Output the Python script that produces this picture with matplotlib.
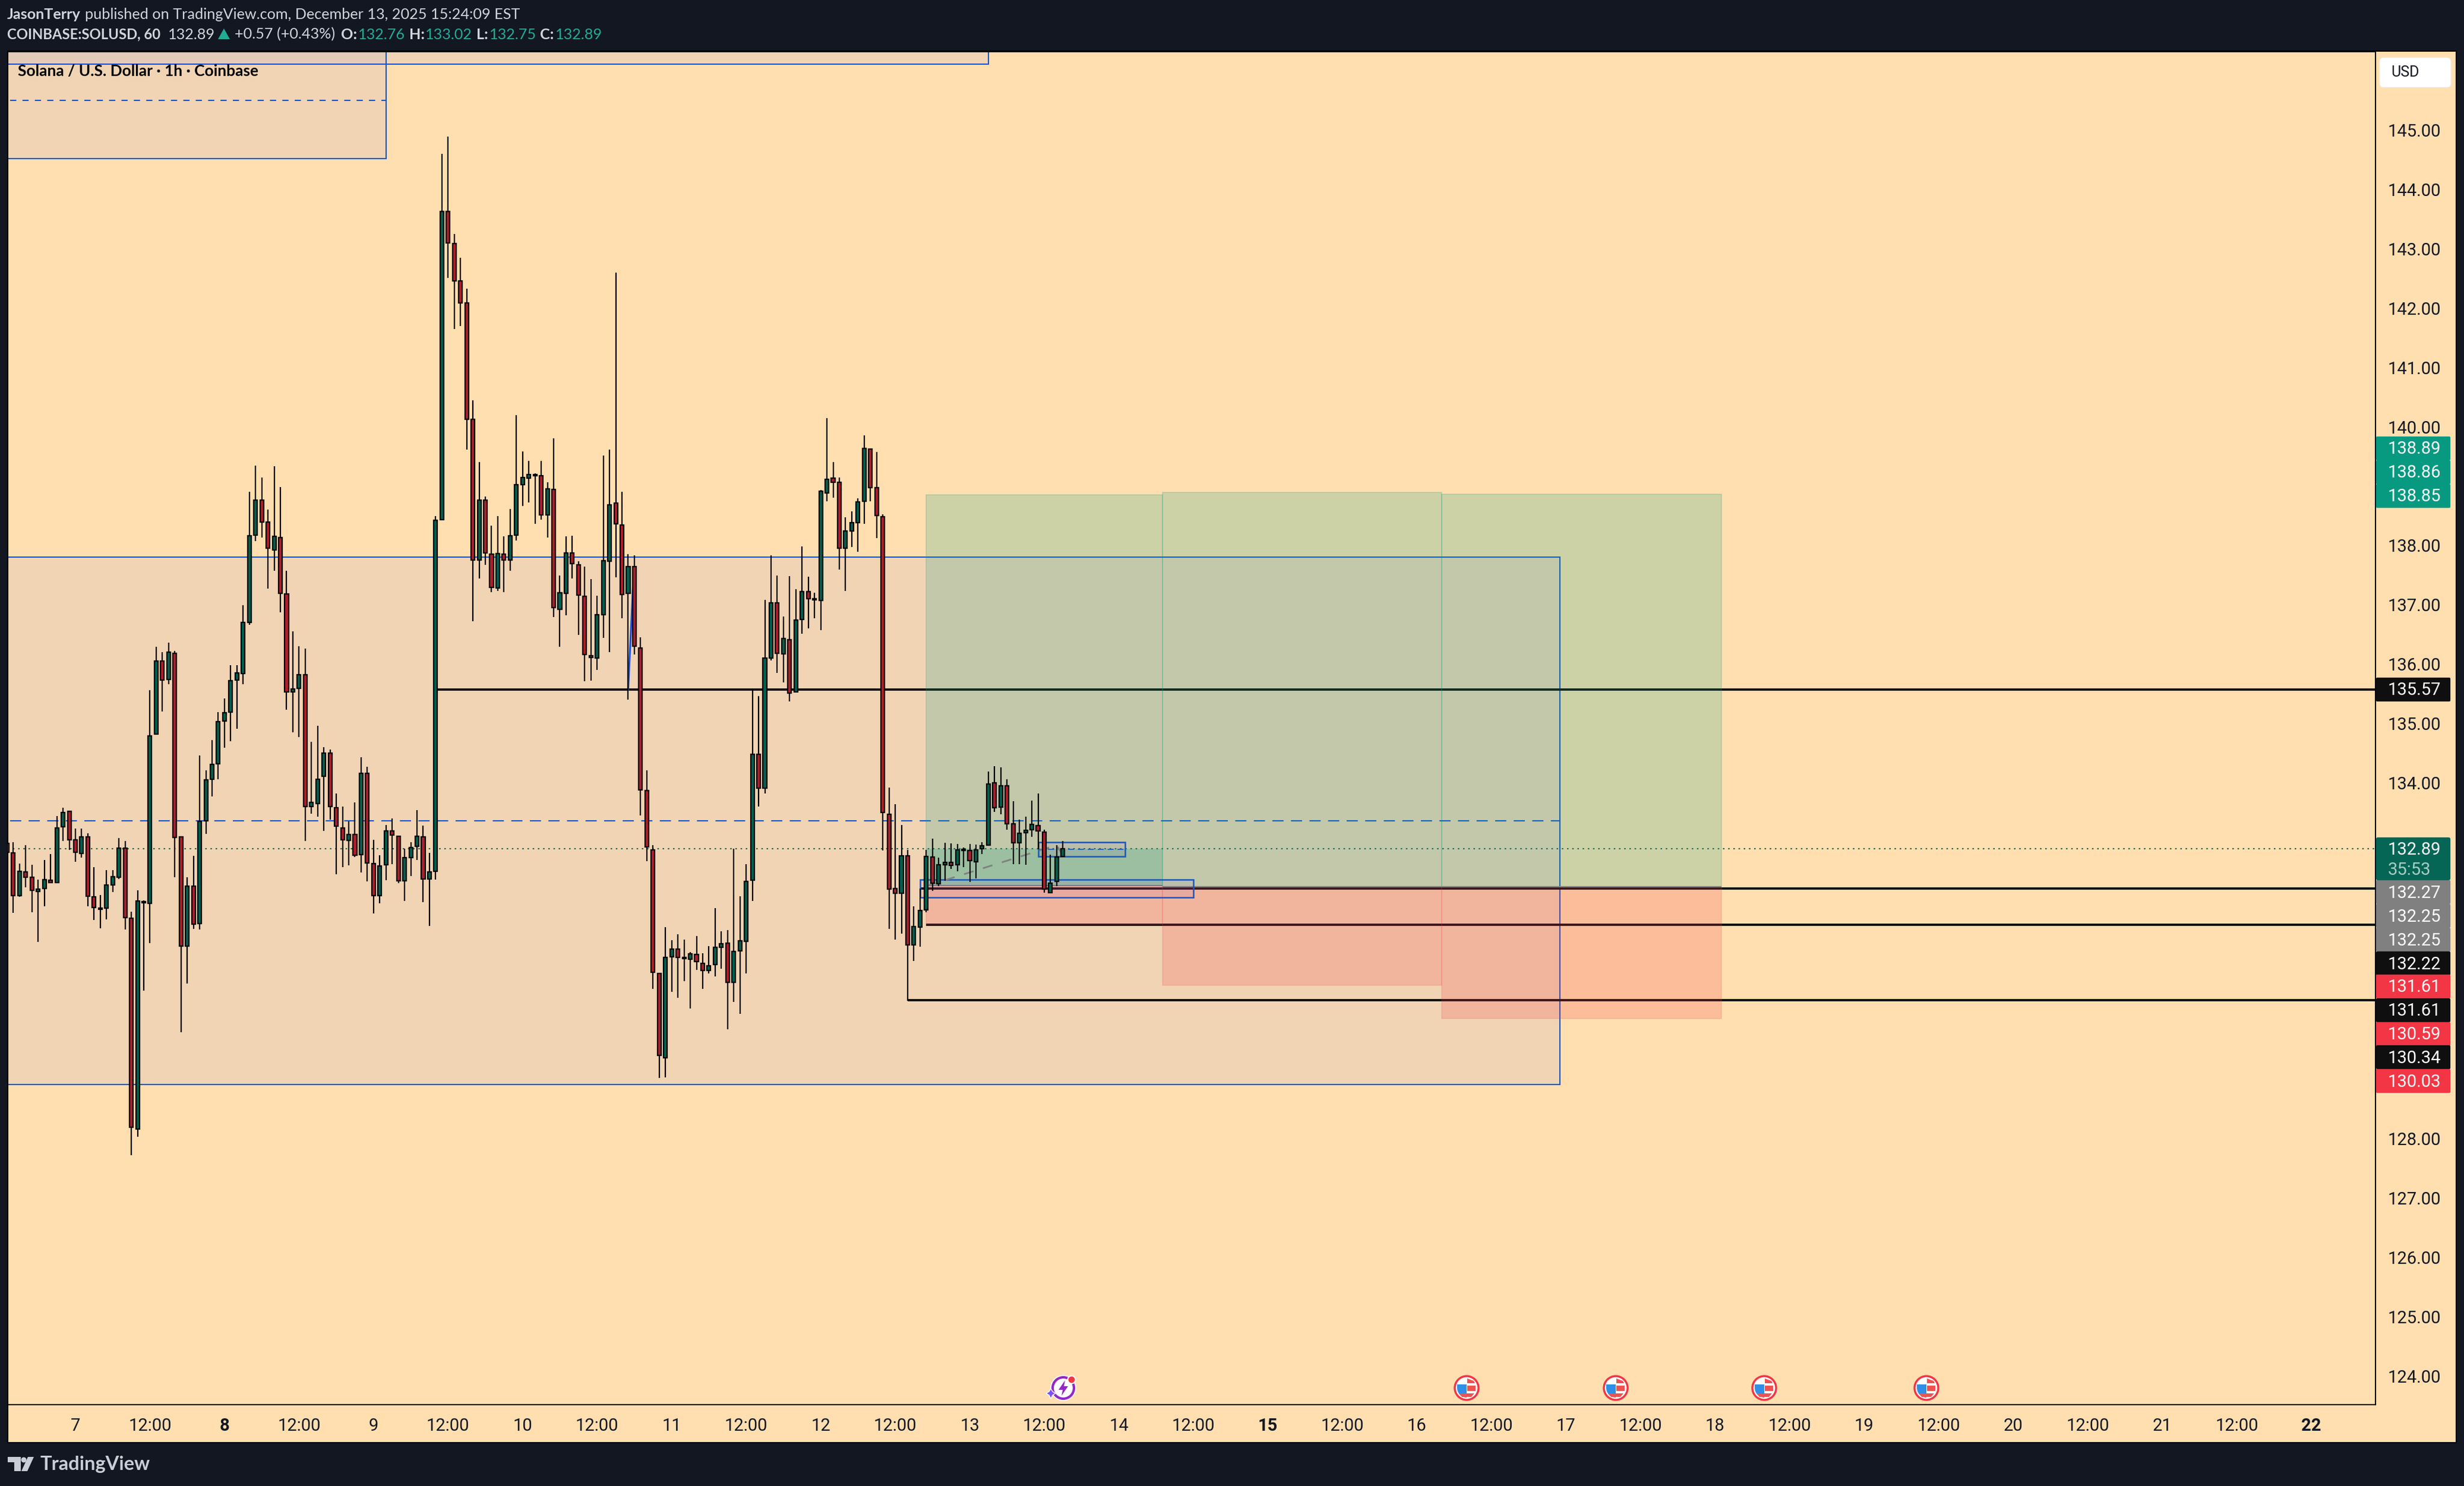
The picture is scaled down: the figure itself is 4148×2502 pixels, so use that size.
import numpy as np
import matplotlib
matplotlib.use('Agg')
import matplotlib.pyplot as plt
from matplotlib.patches import Rectangle, Circle, Polygon, FancyBboxPatch, Wedge

# hours since Dec 7 00:00, one candle per hour
hours = np.arange(-11, 160)

opens = [132.98, 132.82, 132.10, 132.50, 132.41, 132.17, 132.22, 132.36, 132.32, 133.26, 133.52,
         133.04, 132.81, 133.09, 132.08, 131.89, 131.89, 132.28, 132.41, 132.90, 131.72, 128.16,
         131.98, 131.97, 134.82, 136.05, 135.74, 136.18, 133.09, 131.25, 132.26, 131.63, 133.36,
         134.06, 134.32, 135.04, 135.19, 135.73, 135.84, 136.70, 138.17, 138.76, 138.39, 137.92,
         138.13, 137.18, 135.53, 135.59, 135.82, 133.60, 133.65, 134.11, 134.50, 133.58, 133.24,
         133.03, 133.13, 132.79, 134.16, 132.64, 132.10, 132.62, 133.19, 133.10, 132.35, 132.74,
         132.93, 133.09, 132.38, 132.51, 138.43, 143.63, 143.09, 142.46, 142.09, 140.13, 137.75,
         138.76, 137.85, 137.28, 137.85, 137.75, 138.17, 139.03, 139.14, 139.18, 139.18, 138.51,
         138.94, 136.92, 137.19, 137.87, 137.67, 137.14, 136.14, 136.10, 136.83, 137.73, 138.71,
         138.34, 137.19, 137.64, 136.27, 133.87, 132.87, 130.79, 129.37, 131.07, 131.20, 131.06,
         131.03, 131.11, 130.96, 130.84, 130.94, 131.23, 131.30, 130.64, 131.17, 131.33, 132.36,
         134.48, 133.91, 136.10, 137.03, 136.17, 136.41, 135.53, 136.75, 137.22, 137.10, 137.07,
         138.88, 139.14, 139.07, 137.95, 138.24, 138.38, 138.74, 139.63, 138.97, 138.48, 133.47,
         132.22, 132.14, 132.77, 131.27, 131.57, 131.86, 132.75, 132.30, 132.62, 132.66, 132.62,
         132.86, 132.86, 132.67, 132.89, 132.95, 134.00, 133.59, 133.95, 133.31, 132.99, 133.16,
         133.21, 133.28, 133.17, 132.15, 132.34, 132.76]
highs = [133.05, 133.00, 132.64, 132.95, 132.62, 132.37, 132.70, 132.80, 133.44, 133.58, 133.53,
         133.23, 133.23, 133.15, 132.58, 132.11, 132.53, 132.53, 133.07, 133.02, 131.83, 132.19,
         132.02, 135.56, 136.29, 136.20, 136.36, 136.22, 133.09, 132.41, 132.77, 134.46, 134.21,
         134.72, 135.19, 135.42, 135.98, 135.98, 136.99, 138.90, 139.35, 139.15, 138.60, 139.34,
         138.98, 137.57, 136.55, 136.30, 136.26, 134.69, 134.96, 134.60, 134.56, 133.82, 133.60,
         133.35, 133.67, 134.43, 134.27, 133.04, 132.78, 133.29, 133.40, 133.11, 132.89, 133.00,
         133.54, 133.28, 132.82, 138.49, 144.60, 144.89, 143.25, 142.85, 142.33, 140.45, 139.41,
         138.82, 138.33, 138.49, 138.15, 138.61, 140.20, 139.59, 139.43, 139.22, 139.43, 139.07,
         139.81, 137.49, 138.15, 138.16, 137.73, 137.64, 137.43, 137.15, 139.52, 139.62, 142.60,
         138.90, 137.85, 137.83, 136.45, 134.21, 132.95, 130.80, 131.57, 131.35, 131.45, 131.36,
         131.15, 131.42, 131.13, 131.25, 131.89, 131.50, 131.52, 132.89, 132.09, 132.63, 135.59,
         135.46, 137.08, 137.83, 137.49, 136.80, 137.48, 137.26, 137.98, 137.47, 137.20, 138.93,
         140.15, 139.41, 139.15, 138.47, 138.57, 138.79, 139.86, 139.64, 139.58, 138.52, 133.92,
         133.64, 133.29, 132.87, 131.92, 132.22, 132.87, 133.06, 132.74, 132.99, 132.98, 132.97,
         132.91, 132.97, 132.96, 133.00, 134.19, 134.28, 134.26, 134.06, 133.69, 133.38, 133.43,
         133.70, 133.82, 133.21, 132.79, 132.95, 133.02]
lows = [132.72, 131.81, 132.08, 132.24, 131.82, 131.32, 131.92, 132.32, 132.32, 133.02, 132.87,
        132.67, 132.74, 131.92, 131.69, 131.55, 131.70, 132.16, 132.38, 131.53, 127.72, 128.03,
        130.50, 131.30, 134.82, 135.20, 135.66, 132.41, 129.80, 130.62, 131.54, 131.53, 133.14,
        133.77, 134.06, 134.59, 134.70, 134.91, 135.66, 136.66, 138.07, 138.13, 137.27, 137.57,
        136.87, 135.23, 134.85, 134.77, 133.02, 133.48, 133.43, 133.19, 133.38, 132.46, 132.58,
        132.61, 132.75, 132.49, 132.34, 131.80, 131.97, 132.36, 132.63, 132.31, 132.01, 132.43,
        132.70, 131.99, 131.59, 132.37, 138.43, 142.51, 141.65, 141.70, 139.62, 136.72, 137.44,
        137.67, 137.21, 137.23, 137.21, 137.57, 138.08, 138.66, 138.72, 138.36, 138.43, 138.13,
        136.79, 136.29, 136.82, 137.44, 136.49, 135.71, 135.72, 135.90, 136.44, 136.20, 137.46,
        136.77, 135.40, 136.16, 133.45, 132.68, 130.53, 129.03, 129.04, 130.48, 130.38, 130.66,
        130.20, 130.85, 130.53, 130.79, 130.74, 130.87, 129.85, 130.31, 130.11, 130.79, 132.01,
        133.60, 133.82, 136.06, 135.85, 135.69, 135.37, 135.53, 136.51, 136.60, 136.77, 136.57,
        138.74, 138.80, 137.59, 137.23, 137.97, 137.89, 138.36, 138.74, 138.12, 132.86, 131.54,
        131.36, 131.46, 130.33, 131.00, 131.24, 131.82, 132.18, 132.26, 132.35, 132.55, 132.51,
        132.58, 132.33, 132.39, 132.80, 132.95, 133.51, 133.47, 133.21, 132.63, 132.63, 132.62,
        133.09, 132.88, 132.15, 132.14, 132.26, 132.75]
closes = [132.83, 132.10, 132.51, 132.41, 132.19, 132.21, 132.37, 132.32, 133.24, 133.50, 133.04,
          132.83, 133.09, 132.09, 131.90, 131.87, 132.28, 132.42, 132.90, 131.73, 128.19, 132.01,
          132.00, 134.79, 136.05, 135.73, 136.20, 133.08, 131.25, 132.26, 131.62, 133.35, 134.05,
          134.31, 135.03, 135.18, 135.72, 135.85, 136.70, 138.16, 138.76, 138.39, 137.95, 138.15,
          137.19, 135.53, 135.58, 135.82, 133.60, 133.67, 134.06, 134.50, 133.60, 133.27, 133.04,
          133.13, 132.78, 134.16, 132.65, 132.10, 132.60, 133.19, 133.12, 132.35, 132.74, 132.91,
          133.10, 132.38, 132.50, 138.42, 143.63, 143.10, 142.46, 142.09, 140.13, 137.75, 138.76,
          137.87, 137.29, 137.86, 137.75, 138.16, 139.03, 139.15, 139.20, 139.20, 138.51, 138.95,
          136.95, 137.20, 137.87, 137.69, 137.16, 136.16, 136.11, 136.83, 137.74, 138.68, 138.36,
          137.17, 137.64, 136.30, 133.88, 132.92, 130.81, 129.41, 131.06, 131.20, 131.06, 131.04,
          131.12, 130.99, 130.84, 130.92, 131.23, 131.29, 130.64, 131.16, 131.34, 132.34, 134.48,
          133.91, 136.10, 137.03, 136.18, 136.43, 135.51, 136.74, 137.22, 137.10, 137.08, 138.91,
          139.12, 139.07, 137.95, 138.24, 138.38, 138.73, 139.64, 138.97, 138.50, 133.50, 132.21,
          132.14, 132.77, 131.27, 131.58, 131.85, 132.76, 132.31, 132.62, 132.66, 132.61, 132.87,
          132.88, 132.69, 132.87, 132.94, 133.98, 133.58, 133.95, 133.31, 132.99, 133.15, 133.20,
          133.30, 133.19, 132.21, 132.31, 132.75, 132.89]

# 129-133 and 139 sit behind the price tags, so they are left out
price_ticks = [124, 125, 126, 127, 128, 134, 135, 136, 137, 138, 140, 141, 142, 143, 144, 145]
time_ticks = np.arange(0, 361, 12)
day_names = {0: '7', 24: '8', 48: '9', 72: '10', 96: '11', 120: '12', 144: '13', 168: '14',
             192: '15', 216: '16', 240: '17', 264: '18', 288: '19', 312: '20', 336: '21', 360: '22'}
bold_days = (24, 192, 360)

# zones: start hour, end hour, low price, high price
big_zone = (-20, 239, 128.91, 137.80)
top_zone = (-20, 147, 146.11, 147.5)
corner_zone = (-20, 50, 144.52, 147.5)
small_zones = [(136, 180, 132.07, 132.37), (155, 169, 132.76, 133.00)]

# long positions: start, end, stop, entry, target
positions = [(137, 175, 131.61, 132.27, 138.85),
             (175, 220, 130.59, 132.25, 138.89),
             (220, 265, 130.03, 132.25, 138.86)]

# black level lines: start hour, price
levels = [(58, 135.57), (136, 132.22), (137, 131.61), (134, 130.34)]

last_price = 132.89
mid_big = 133.36
mid_corner = 145.50

# price scale tags: text, colour, centre row in pixels
price_tags = [('138.89', '#089981', 755), ('138.86', '#089981', 795), ('138.85', '#089981', 835),
              ('135.57', '#0F0F0F', 1161),
              ('132.27', '#808080', 1502), ('132.25', '#808080', 1542), ('132.25', '#808080', 1582),
              ('132.22', '#0F0F0F', 1622), ('131.61', '#F23645', 1661), ('131.61', '#0F0F0F', 1701),
              ('130.59', '#F23645', 1741), ('130.34', '#0F0F0F', 1780), ('130.03', '#F23645', 1820)]

BG = '#FFDFB0'
DARK = '#131722'
BLUE = '#1557C8'
BLACK_LINE = '#101010'
RED_BODY = '#AE1F2E'
GREEN_BODY = '#03604E'
W, H = 4148, 2502
AXIS_FONT = 'Roboto'
HEAD_FONT = 'Lato'

fig = plt.figure(figsize=(W / 100, H / 100), dpi=100, facecolor=DARK)

# light panel behind chart and scales
back = fig.add_axes([0, 0, 1, 1], zorder=0)
back.set_xlim(0, W)
back.set_ylim(H, 0)
back.axis('off')
back.add_patch(Rectangle((13, 86), 4135 - 13, 2429 - 86, fc=BG, ec='black', lw=1.5))

x0, x1, y0, y1 = 13, 3999, 87, 2365
ax = fig.add_axes([x0 / W, 1 - y1 / H, (x1 - x0) / W, (y1 - y0) / H], zorder=1)
ax.set_facecolor(BG)
ax.set_xlim((x0 - 127) / 10.455, (x1 - 127) / 10.455)
ax.set_ylim(134 - (y1 - 1318) / 99.9, 134 + (1318 - y0) / 99.9)
for s in ax.spines.values():
    s.set_linewidth(1.5)
    s.set_color('black')


def zone(z, face, ec=BLUE, lw=1.5, order=1):
    ax.add_patch(Rectangle((z[0], z[2]), z[1] - z[0], z[3] - z[2], fc=face, ec=ec, lw=lw, zorder=order))


tint = (25 / 255, 50 / 255, 1, 0.06)
zone(big_zone, tint)
zone(top_zone, tint)
zone(corner_zone, tint)
for z in small_zones:
    zone(z, (120 / 255, 60 / 255, 200 / 255, 0.08), lw=1.8, order=3.5)

ax.plot([-10.5, 239], [mid_big, mid_big], color=BLUE, lw=1.5, ls=(0, (9, 6)), zorder=1.5)
ax.plot([-10.5, 50], [mid_corner, mid_corner], color=BLUE, lw=1.5, ls=(0, (5, 5)), zorder=1.5)
ax.plot([155, 169], [132.88, 132.88], color=BLUE, lw=1.2, ls=(0, (6, 4)), zorder=3.5)

for start, price in levels:
    ax.plot([start, ax.get_xlim()[1]], [price, price], color=BLACK_LINE, lw=2.8, zorder=2,
            solid_capstyle='butt')

ax.plot([ax.get_xlim()[0], ax.get_xlim()[1]], [last_price, last_price], color='#056656', lw=1.5,
        ls=(0, (1.2, 3)), zorder=2.5)

# risk / reward boxes
green = (8 / 255, 153 / 255, 129 / 255)
red = (242 / 255, 54 / 255, 69 / 255)
for start, end, stop, entry, target in positions:
    ax.add_patch(Rectangle((start, entry), end - start, target - entry, fc=green + (0.2,),
                           ec=green + (0.2,), lw=1.2, zorder=3))
    ax.add_patch(Rectangle((start, stop), end - start, entry - stop, fc=red + (0.2,),
                           ec=red + (0.15,), lw=1.2, zorder=3))
    ax.plot([start, end], [entry, entry], color='#808080', lw=1.5, zorder=3.2, solid_capstyle='butt')
ax.add_patch(Rectangle((137, 132.26), 38, last_price - 132.26, fc=green + (0.2,), ec='none', zorder=3.1))

# dashed trade path and the small blue stroke
ax.plot([137, 158, 159], [132.26, 132.95, 132.77], color='#808080', lw=2, ls=(0, (6, 6)), zorder=3.6)
ax.plot([89, 89.9], [135.57, 137.6], color='#1A4FE0', lw=2.2, zorder=3.6)

o = np.array(opens)
c = np.array(closes)
up = c >= o
ax.vlines(hours, lows, highs, color='black', lw=1.6, zorder=4)
ax.bar(hours, np.abs(c - o), bottom=np.minimum(o, c), width=0.58,
       color=[GREEN_BODY if u else RED_BODY for u in up], edgecolor='black', linewidth=1.6, zorder=5)

ax.set_yticks(price_ticks)
ax.set_yticklabels([f'{p:.2f}' for p in price_ticks], family=AXIS_FONT, fontsize=21, ha='left')
ax.yaxis.tick_right()
ax.tick_params(axis='y', length=0, pad=15, colors='#131722')
ax.set_xticks(time_ticks)
ax.set_xticklabels([day_names.get(t, '12:00') for t in time_ticks], family=AXIS_FONT, fontsize=21)
for t, lab in zip(time_ticks, ax.get_xticklabels()):
    if t in bold_days:
        lab.set_fontweight('bold')
ax.tick_params(axis='x', length=0, pad=16, colors='#131722')

# everything below is drawn in pixel rows and columns on top
top = fig.add_axes([0, 0, 1, 1], zorder=2)
top.set_xlim(0, W)
top.set_ylim(H, 0)
top.axis('off')
top.patch.set_alpha(0)

for text, color, yc in price_tags:
    top.add_patch(FancyBboxPatch((4000, yc - 20), 125, 40, boxstyle='round,pad=0,rounding_size=2', fc=color, ec=color, lw=0.2))
    top.text(4020, yc + 1.5, text, color='white', family=AXIS_FONT, fontsize=21, va='center', ha='left')
top.add_patch(FancyBboxPatch((4000, 1410), 125, 72, boxstyle='round,pad=0,rounding_size=3', fc='#056656', ec='#056656', lw=0.2))
top.text(4020, 1431, '132.89', color='white', family=AXIS_FONT, fontsize=21, va='center')
top.text(4020, 1465, '35:53', color='#A8CDC4', family=AXIS_FONT, fontsize=21, va='center')

top.add_patch(FancyBboxPatch((4006, 97), 120, 50, boxstyle='round,pad=0,rounding_size=7', fc='white', ec='#EEEEEE', lw=0.8))
top.text(4025, 122, 'USD', color='#131722', family='Roboto', fontsize=18, va='center')

LIGHT = '#D1D4DC'
TEAL = '#22AB94'


def head(x, y, s, color=LIGHT, weight='normal', size=18.2):
    top.text(x, y, s, color=color, family=HEAD_FONT, fontsize=size, fontweight=weight, va='center', ha='left')


head(12, 25, 'JasonTerry', weight='bold')
head(143, 25, 'published on TradingView.com, December 13, 2025 15:24:09 EST')
head(12, 58, 'COINBASE:SOLUSD, 60', weight='bold', size=17.2)
head(283, 58, '132.89')
top.add_patch(Polygon([(367, 66), (387, 66), (377, 48)], fc=TEAL, ec='none'))
head(395, 58, '+0.57 (+0.43%)')
head(574, 58, 'O:', weight='bold')
head(603, 58, '132.76', color=TEAL)
head(689, 58, 'H:', weight='bold')
head(716, 58, '133.02', color=TEAL)
head(802, 58, 'L:', weight='bold')
head(824, 58, '132.75', color=TEAL)
head(909, 58, 'C:', weight='bold')
head(935, 58, '132.89', color=TEAL)

top.text(30, 120, 'Solana / U.S. Dollar · 1h · Coinbase', color='black', family=HEAD_FONT, fontsize=19,
         fontweight='bold', va='center')

# footer logo
logo = '#C9CDD6'
top.add_patch(Polygon([(13, 2453), (35, 2453), (35, 2477), (24, 2477), (24, 2462), (13, 2462)], fc=logo, ec='none'))
top.add_patch(Circle((40, 2458), 4.5, fc=logo, ec='none'))
top.add_patch(Polygon([(47, 2453), (57, 2453), (46, 2477), (36, 2477)], fc=logo, ec='none'))
top.text(67, 2465, 'TradingView', color=logo, family='Lato', fontsize=23.5, fontweight='bold', va='center')


def flag(x, y=2337):
    top.add_patch(Circle((x, y), 20, fc='white', ec='#F23645', lw=2.5))
    top.add_patch(Wedge((x, y), 16, 90, 180, fc='#2F8FE8', ec='none'))
    top.add_patch(Rectangle((x - 16, y - 6), 16, 6, fc='#2F8FE8', ec='none'))
    top.add_patch(Rectangle((x + 1, y - 4), 14, 9, fc='#EF5350', ec='none'))
    top.add_patch(Polygon([(x - 13, y + 9), (x + 13, y + 9), (x + 8, y + 15), (x - 8, y + 15)], fc='#EF5350', ec='none'))
    top.add_patch(Polygon([(x + 1, y - 16), (x + 12, y - 12), (x + 14, y - 8), (x + 1, y - 8)], fc='#EF5350', ec='none'))


for px in (2469, 2720, 2970, 3243):
    flag(px)

# earnings style icon
ix, iy = 1790, 2337
top.add_patch(Circle((ix, iy), 19, fc='white', ec='white', lw=4))
top.add_patch(Circle((ix, iy), 18, fc='none', ec='#9327C8', lw=3))
top.add_patch(Polygon([(ix + 3, iy - 13), (ix - 8, iy + 3), (ix - 1, iy + 3), (ix - 3, iy + 13), (ix + 8, iy - 3), (ix + 1, iy - 3)], fc='#9327C8', ec='none'))
top.add_patch(Polygon([(ix - 21, iy + 1), (ix - 18, iy + 6), (ix - 13, iy + 9), (ix - 18, iy + 12), (ix - 21, iy + 18), (ix - 24, iy + 12), (ix - 29, iy + 9), (ix - 24, iy + 6)], fc='#7C4DFF', ec='white', lw=1))
top.add_patch(Circle((ix + 14, iy - 14), 6.5, fc='#F23645', ec='white', lw=1.5))

fig.savefig('out.png', dpi=100, facecolor=DARK)
